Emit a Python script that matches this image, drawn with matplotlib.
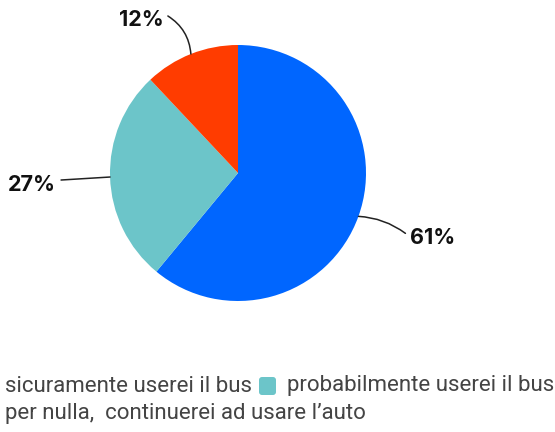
import numpy as np
import matplotlib
matplotlib.use("Agg")
import matplotlib.pyplot as plt
from matplotlib.patches import FancyBboxPatch

# Survey answers, share of respondents (%)
categories = ["sicuramente userei il bus",
              "probabilmente userei il bus",
              "per nulla,  continuerei ad usare l\u2019auto"]
values = [61, 27, 12]
colors = ["#0066FF", "#6CC5C9", "#FF3C00"]
labels = [f"{v}%" for v in values]

W, H = 555, 432
fig = plt.figure(figsize=(W / 100, H / 100), dpi=100)
ax = fig.add_axes([0, 0, 1, 1])

cx, cy, r = 238, H - 173, 128
wedges, _ = ax.pie(values, colors=colors, startangle=90, counterclock=False,
                   radius=r, center=(cx, cy), frame=True,
                   wedgeprops=dict(linewidth=0))
ax.set_xlim(0, W)
ax.set_ylim(0, H)
ax.set_aspect("auto")
ax.axis("off")

# label placement relative to each wedge's edge midpoint:
# (line dx, line dy, text alignment, text dx, text dy, connection style)
offsets = [(47, -17, "left", 5, -5, "arc3,rad=0.15"),
           (-49, -3, "right", -5, -5, "arc3,rad=0.0"),
           (-23, 38, "right", -4, -4, "arc3,rad=-0.25")]
label_font = dict(fontsize=15.5, fontweight="bold", family="Inter", color="#111111")
for w, lab, (dx, dy, ha, tdx, tdy, cs) in zip(wedges, labels, offsets):
    ang = np.deg2rad((w.theta1 + w.theta2) / 2)
    ex, ey = cx + r * np.cos(ang), cy + r * np.sin(ang)
    tx, ty = ex + dx, ey + dy
    ax.annotate("", xy=(ex, ey), xytext=(tx, ty),
                arrowprops=dict(arrowstyle="-", color="#222222", lw=1.1,
                                connectionstyle=cs, shrinkA=0, shrinkB=0))
    ax.text(tx + tdx, ty + tdy, lab, ha=ha, va="center", **label_font)

# legend rows at the bottom
leg_font = dict(fontsize=16, family="Roboto", color="#444444", va="center")
y1, y2 = H - 386, H - 414
ax.text(5, y1, categories[0], ha="left", **leg_font)
ax.add_patch(FancyBboxPatch((259, y1 - 9), 17, 18,
                            boxstyle="round,pad=0,rounding_size=3",
                            fc=colors[1], ec="none"))
ax.text(287, y1, categories[1], ha="left", **leg_font)
ax.text(5, y2, categories[2], ha="left", **leg_font)

fig.savefig("out.png", dpi=100, facecolor="white")
